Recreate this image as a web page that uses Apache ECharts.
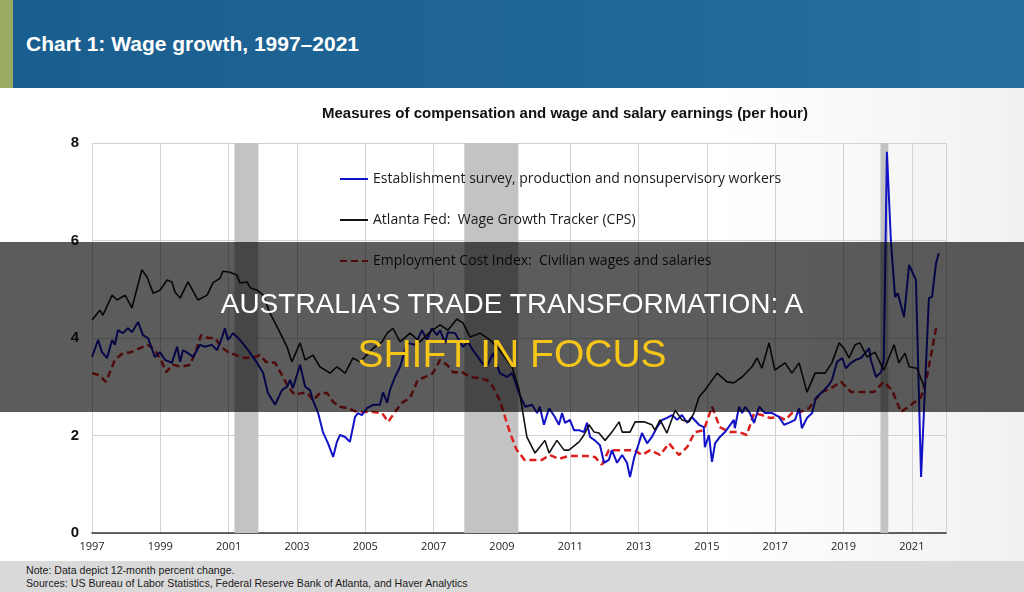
<!DOCTYPE html>
<html>
<head>
<meta charset="utf-8">
<title>Chart 1: Wage growth, 1997–2021</title>
<script src="https://cdn.jsdelivr.net/npm/echarts@6/dist/echarts.min.js"></script>
<style>
    html, body { margin: 0; padding: 0; }
    body { width: 1024px; height: 592px; position: relative; overflow: hidden;
        background: linear-gradient(to right, #ffffff 0%, #ffffff 70%, #f1f1f1 100%);
        font-family: "Liberation Sans", Arial, sans-serif; }
    .header { position: absolute; left: 0; top: 0; width: 1024px; height: 88px;
        background: linear-gradient(to right, #1a5e8f, #1f6797 60%, #266f9f); }
    .header .strip { position: absolute; left: 0; top: 0; width: 13px; height: 88px; background: #9aab63; }
    .header .txt { position: absolute; left: 26px; top: 32px; color: #fff; font-size: 21px; font-weight: bold; }
    #chart { position: absolute; left: 0; top: 88px; width: 1024px; height: 473px; }
    .footer { position: absolute; left: 0; top: 561px; width: 1024px; height: 31px; background: #d9d9d9;
        color: #1a1a1a; font-size: 10.6px; line-height: 13px; }
    .footer div { padding-left: 26px; }
    .overlay { position: absolute; left: 0; top: 242px; width: 1024px; height: 170px;
        background: rgba(0, 0, 0, 0.64); z-index: 5; text-align: center; }
    .overlay .l1 { position: absolute; left: 0; width: 1024px; top: 46px; color: #fff; font-size: 28px; line-height: 32px; }
    .overlay .l2 { position: absolute; left: 0; width: 1024px; top: 90px; color: #f5c518; font-size: 39px; line-height: 44px; }
</style>
</head>
<body>
<div class="header"><div class="strip"></div><div class="txt">Chart 1: Wage growth, 1997–2021</div></div>
<div id="chart"></div>
<div class="footer">
    <div style="padding-top:3px">Note: Data depict 12-month percent change.</div>
    <div>Sources: US Bureau of Labor Statistics, Federal Reserve Bank of Atlanta, and Haver Analytics</div>
</div>
<div class="overlay">
    <div class="l1">AUSTRALIA'S TRADE TRANSFORMATION: A</div>
    <div class="l2">SHIFT IN FOCUS</div>
</div>
<script>
/*==================== 数据 ====================*/
var BASE_YEAR = 1997; // x轴从1997开始计数
var yearTicks = ['1997', '1999', '2001', '2003', '2005', '2007', '2009', '2011', '2013', '2015', '2017', '2019', '2021'];

// Establishment survey, production and nonsupervisory workers
var estYears = [1997.00, 1997.18, 1997.29, 1997.44, 1997.59, 1997.67, 1997.76, 1997.91, 1998.05, 1998.17, 1998.35, 1998.49,
    1998.64, 1998.84, 1998.99, 1999.14, 1999.34, 1999.49, 1999.58, 1999.66, 1999.81, 1999.96, 2000.16, 2000.31, 2000.51,
    2000.66, 2000.81, 2000.89, 2000.98, 2001.13, 2001.33, 2001.57, 2001.83, 2002.01, 2002.15, 2002.36, 2002.56, 2002.71,
    2002.80, 2002.88, 2003.09, 2003.24, 2003.38, 2003.47, 2003.62, 2003.76, 2003.91, 2004.06, 2004.17, 2004.26, 2004.41,
    2004.55, 2004.70, 2004.79, 2004.90, 2005.05, 2005.23, 2005.43, 2005.52, 2005.64, 2005.72, 2005.87, 2006.02, 2006.22,
    2006.46, 2006.66, 2006.81, 2006.95, 2007.10, 2007.19, 2007.33, 2007.42, 2007.63, 2007.77, 2007.86, 2008.01, 2008.15,
    2008.42, 2008.56, 2008.74, 2008.94, 2009.15, 2009.30, 2009.50, 2009.68, 2009.88, 2010.03, 2010.11, 2010.23, 2010.38,
    2010.55, 2010.67, 2010.76, 2010.85, 2010.99, 2011.11, 2011.26, 2011.40, 2011.49, 2011.58, 2011.72, 2011.87, 2011.99,
    2012.13, 2012.22, 2012.37, 2012.52, 2012.66, 2012.75, 2012.87, 2013.01, 2013.10, 2013.25, 2013.39, 2013.54, 2013.69,
    2013.83, 2013.98, 2014.13, 2014.27, 2014.42, 2014.56, 2014.77, 2014.91, 2014.94, 2015.06, 2015.15, 2015.24, 2015.38,
    2015.53, 2015.79, 2015.82, 2015.94, 2016.03, 2016.12, 2016.26, 2016.38, 2016.53, 2016.70, 2016.91, 2017.11, 2017.26,
    2017.40, 2017.58, 2017.70, 2017.78, 2017.93, 2018.08, 2018.19, 2018.43, 2018.57, 2018.66, 2018.81, 2018.96, 2019.07,
    2019.22, 2019.36, 2019.51, 2019.66, 2019.75, 2019.80, 2019.95, 2020.10, 2020.18, 2020.27, 2020.39, 2020.51, 2020.59,
    2020.77, 2020.92, 2021.12, 2021.27, 2021.50, 2021.59, 2021.71, 2021.79];
var estValues = [3.61, 3.96, 3.71, 3.59, 3.96, 3.86, 4.16, 4.10, 4.20, 4.12, 4.33, 4.06,
    4.00, 3.61, 3.71, 3.55, 3.49, 3.82, 3.51, 3.75, 3.69, 3.61, 3.86, 3.82, 3.86,
    3.75, 4.02, 4.20, 3.96, 4.10, 3.96, 3.75, 3.49, 3.28, 2.87, 2.63, 2.93, 3.00,
    3.14, 2.97, 3.45, 3.00, 2.93, 2.72, 2.46, 2.07, 1.84, 1.56, 1.87, 2.01, 1.97,
    1.87, 2.38, 2.46, 2.42, 2.56, 2.63, 2.63, 2.89, 2.67, 2.93, 3.20, 3.41, 3.90,
    3.86, 4.16, 3.96, 4.20, 4.06, 4.16, 3.90, 4.12, 4.10, 3.92, 3.82, 3.92, 3.75,
    3.49, 3.41, 3.69, 3.28, 3.20, 3.28, 2.87, 2.59, 2.63, 2.46, 2.59, 2.22, 2.56,
    2.38, 2.22, 2.46, 2.26, 2.32, 2.11, 2.11, 2.07, 2.26, 1.97, 1.90, 1.80, 1.44,
    1.50, 1.70, 1.44, 1.60, 1.44, 1.15, 1.54, 1.84, 2.05, 1.84, 1.97, 2.17, 2.32,
    2.36, 2.42, 2.32, 2.42, 2.26, 2.38, 2.22, 2.17, 1.76, 2.01, 1.46, 1.84, 1.97,
    2.07, 2.32, 2.15, 2.59, 2.46, 2.59, 2.46, 2.26, 2.59, 2.46, 2.46, 2.38, 2.22,
    2.26, 2.32, 2.56, 2.15, 2.36, 2.46, 2.77, 2.93, 3.04, 3.14, 3.51, 3.59, 3.38,
    3.49, 3.55, 3.59, 3.71, 3.79, 3.55, 3.20, 3.30, 3.55, 7.82, 5.95, 4.84, 4.92,
    4.43, 5.50, 5.19, 1.15, 4.82, 4.84, 5.54, 5.74];

// Atlanta Fed: Wage Growth Tracker (CPS)
var atlYears = [1997.00, 1997.23, 1997.32, 1997.59, 1997.73, 1997.97, 1998.17, 1998.46, 1998.61, 1998.79, 1998.99, 1999.20,
    1999.34, 1999.43, 1999.58, 1999.81, 2000.10, 2000.37, 2000.54, 2000.75, 2000.83, 2001.04, 2001.24, 2001.33, 2001.54,
    2001.63, 2001.83, 2002.01, 2002.21, 2002.42, 2002.71, 2002.85, 2003.09, 2003.24, 2003.47, 2003.67, 2003.97, 2004.17,
    2004.41, 2004.64, 2004.85, 2005.23, 2005.49, 2005.64, 2005.81, 2006.02, 2006.31, 2006.60, 2006.89, 2007.19, 2007.42,
    2007.68, 2007.86, 2008.07, 2008.36, 2008.65, 2008.94, 2009.30, 2009.50, 2009.73, 2009.97, 2010.26, 2010.38, 2010.61,
    2010.82, 2010.96, 2011.26, 2011.40, 2011.55, 2011.70, 2011.84, 2012.02, 2012.22, 2012.43, 2012.52, 2012.75, 2012.90,
    2013.16, 2013.39, 2013.48, 2013.63, 2013.83, 2014.07, 2014.27, 2014.48, 2014.62, 2014.77, 2014.94, 2015.30, 2015.59,
    2015.79, 2016.03, 2016.32, 2016.47, 2016.61, 2016.82, 2016.99, 2017.29, 2017.49, 2017.70, 2017.93, 2018.17, 2018.46,
    2018.66, 2018.87, 2019.01, 2019.16, 2019.34, 2019.48, 2019.69, 2019.92, 2020.18, 2020.48, 2020.62, 2020.80, 2020.92,
    2021.15, 2021.36];
var atlValues = [4.37, 4.57, 4.47, 4.88, 4.78, 4.88, 4.62, 5.40, 5.25, 4.92, 4.98, 5.19,
    5.15, 4.94, 4.82, 5.15, 4.78, 4.88, 5.13, 5.23, 5.37, 5.35, 5.29, 5.13, 5.15,
    5.03, 4.98, 4.88, 4.51, 4.23, 3.82, 3.51, 3.90, 3.55, 3.65, 3.41, 3.28, 3.41,
    3.28, 3.59, 3.51, 3.79, 3.92, 4.10, 4.20, 3.92, 4.10, 3.92, 4.12, 4.27, 4.16,
    4.39, 4.31, 4.02, 4.10, 3.96, 3.75, 3.40, 2.95, 1.97, 1.64, 1.90, 1.64, 1.90,
    1.70, 1.70, 1.87, 2.01, 2.22, 2.07, 2.05, 1.90, 2.07, 2.28, 2.07, 2.07, 2.28,
    2.28, 2.22, 2.11, 2.32, 2.05, 2.52, 2.32, 2.28, 2.46, 2.79, 2.93, 3.28, 3.10,
    3.08, 3.20, 3.41, 3.59, 3.38, 3.90, 3.34, 3.49, 3.28, 3.49, 2.89, 3.28, 3.28,
    3.49, 3.90, 3.79, 3.59, 3.86, 3.90, 3.61, 3.71, 3.34, 3.86, 3.49, 3.69, 3.41,
    3.38, 3.00];

// Employment Cost Index: Civilian wages and salaries (季度)
var eciYears = [1997.00, 1997.20, 1997.41, 1997.67, 1997.91, 1998.14, 1998.40, 1998.64, 1998.84, 1999.02, 1999.17, 1999.37,
    1999.61, 1999.87, 2000.05, 2000.19, 2000.40, 2000.60, 2000.78, 2000.98, 2001.22, 2001.48, 2001.77, 2001.92, 2002.09,
    2002.36, 2002.53, 2002.74, 2002.94, 2003.12, 2003.30, 2003.47, 2003.67, 2003.88, 2004.06, 2004.26, 2004.49, 2004.76,
    2004.99, 2005.23, 2005.49, 2005.67, 2005.87, 2006.07, 2006.31, 2006.54, 2006.75, 2006.98, 2007.19, 2007.39, 2007.57,
    2007.83, 2008.07, 2008.30, 2008.56, 2008.74, 2008.94, 2009.09, 2009.24, 2009.42, 2009.66, 2009.88, 2010.17, 2010.40,
    2010.67, 2010.96, 2011.26, 2011.49, 2011.72, 2011.93, 2012.13, 2012.37, 2012.60, 2012.87, 2013.10, 2013.34, 2013.63,
    2013.89, 2014.18, 2014.42, 2014.65, 2014.91, 2015.15, 2015.38, 2015.67, 2015.94, 2016.17, 2016.38, 2016.61, 2016.85,
    2017.11, 2017.29, 2017.49, 2017.73, 2017.99, 2018.15, 2018.37, 2018.63, 2018.93, 2019.22, 2019.51, 2019.89, 2020.18,
    2020.42, 2020.68, 2020.98, 2021.27, 2021.44, 2021.71];
var eciValues = [3.28, 3.24, 3.10, 3.55, 3.69, 3.71, 3.79, 3.86, 3.75, 3.55, 3.30, 3.45,
    3.41, 3.45, 3.75, 4.06, 4.00, 4.00, 3.82, 3.71, 3.65, 3.59, 3.61, 3.65, 3.51,
    3.49, 3.28, 3.00, 2.83, 2.87, 2.87, 2.72, 2.87, 2.87, 2.69, 2.59, 2.56, 2.48,
    2.48, 2.48, 2.46, 2.28, 2.48, 2.67, 2.77, 3.14, 3.20, 3.28, 3.55, 3.45, 3.30,
    3.30, 3.20, 3.18, 3.14, 3.00, 2.72, 2.38, 2.05, 1.72, 1.50, 1.50, 1.50, 1.60,
    1.52, 1.58, 1.58, 1.58, 1.56, 1.40, 1.70, 1.70, 1.70, 1.70, 1.60, 1.70, 1.60,
    1.84, 1.60, 1.76, 2.07, 2.11, 2.59, 2.17, 2.07, 2.07, 2.01, 2.46, 2.42, 2.36,
    2.38, 2.32, 2.46, 2.48, 2.56, 2.72, 2.89, 2.97, 3.10, 2.89, 2.89, 2.89, 3.10,
    2.93, 2.48, 2.63, 2.79, 3.20, 4.20];

// 衰退期阴影 [开始, 结束]
var recessions = [[2001.17, 2001.87], [2007.90, 2009.48], [2020.08, 2020.31]];

var seriesNames = ['Establishment survey, production and nonsupervisory workers',
    'Atlanta Fed:  Wage Growth Tracker (CPS)',
    'Employment Cost Index:  Civilian wages and salaries'];

/*==================== 工具函数 ====================*/
function toPairs(years, values) {
    var arr = [];
    for (var i = 0; i < years.length; i++) {
        arr.push([+(years[i] - BASE_YEAR).toFixed(3), values[i]]);
    }
    return arr;
}

var areaData = [];
for (var k = 0; k < recessions.length; k++) {
    areaData.push([{ xAxis: recessions[k][0] - BASE_YEAR }, { xAxis: recessions[k][1] - BASE_YEAR }]);
}

/*==================== echart ====================*/
var myChart = echarts.init(document.getElementById('chart'));
var option = {
    animation: false,
    title: {
        text: 'Measures of compensation and wage and salary earnings (per hour)',
        left: 317,
        top: 13,
        textStyle: {
            fontFamily: 'Liberation Sans',
            fontSize: 15,
            fontWeight: 'bold',
            color: '#111'
        }
    },
    legend: {
        data: seriesNames,
        orient: 'vertical',
        left: 334,
        top: 79,
        itemWidth: 28,
        itemHeight: 14,
        itemGap: 27,
        itemStyle: { opacity: 0 }, // 图例只显示线，不显示圆点
        textStyle: {
            fontFamily: 'Open Sans',
            fontSize: 14,
            color: '#1a1a1a'
        }
    },
    grid: {
        left: 92,
        right: 78,
        top: 55,
        bottom: 28
    },
    xAxis: {
        type: 'value',
        min: 0,
        max: 25,
        interval: 2,
        axisLine: { lineStyle: { color: '#333', width: 1.5 } },
        axisTick: { show: false },
        axisLabel: {
            margin: 8,
            fontFamily: 'Open Sans',
            fontSize: 11,
            color: '#222',
            showMaxLabel: false,
            formatter: function (v) {
                var idx = Math.round(v / 2);
                return (v % 2 === 0 && yearTicks[idx]) ? yearTicks[idx] : '';
            }
        },
        splitLine: { show: true, lineStyle: { color: '#d2d2d2', width: 1 } }
    },
    yAxis: {
        type: 'value',
        min: 0,
        max: 8,
        interval: 2,
        axisLine: { show: false },
        axisTick: { show: false },
        axisLabel: {
            margin: 13,
            fontFamily: 'Liberation Sans',
            fontSize: 15,
            fontWeight: 'bold',
            color: '#111'
        },
        splitLine: { show: true, lineStyle: { color: '#d2d2d2', width: 1 } }
    },
    series: [{
            name: 'recession',
            type: 'line',
            data: [],
            z: 1,
            markArea: {
                silent: true,
                itemStyle: { color: '#c3c3c3' },
                data: areaData
            }
        },
        {
            name: seriesNames[0],
            type: 'line',
            z: 3,
            symbol: 'none',
            lineStyle: { color: '#1212c6', width: 2 },
            itemStyle: { color: '#1212c6' },
            data: toPairs(estYears, estValues)
        },
        {
            name: seriesNames[1],
            type: 'line',
            z: 4,
            symbol: 'none',
            lineStyle: { color: '#111', width: 1.6 },
            itemStyle: { color: '#111' },
            data: toPairs(atlYears, atlValues)
        },
        {
            name: seriesNames[2],
            type: 'line',
            z: 2,
            symbol: 'none',
            lineStyle: { color: '#dc1e1e', width: 2.5, type: [7, 4] },
            itemStyle: { color: '#dc1e1e' },
            data: toPairs(eciYears, eciValues)
        }
    ]
};
myChart.setOption(option);
</script>
</body>
</html>
